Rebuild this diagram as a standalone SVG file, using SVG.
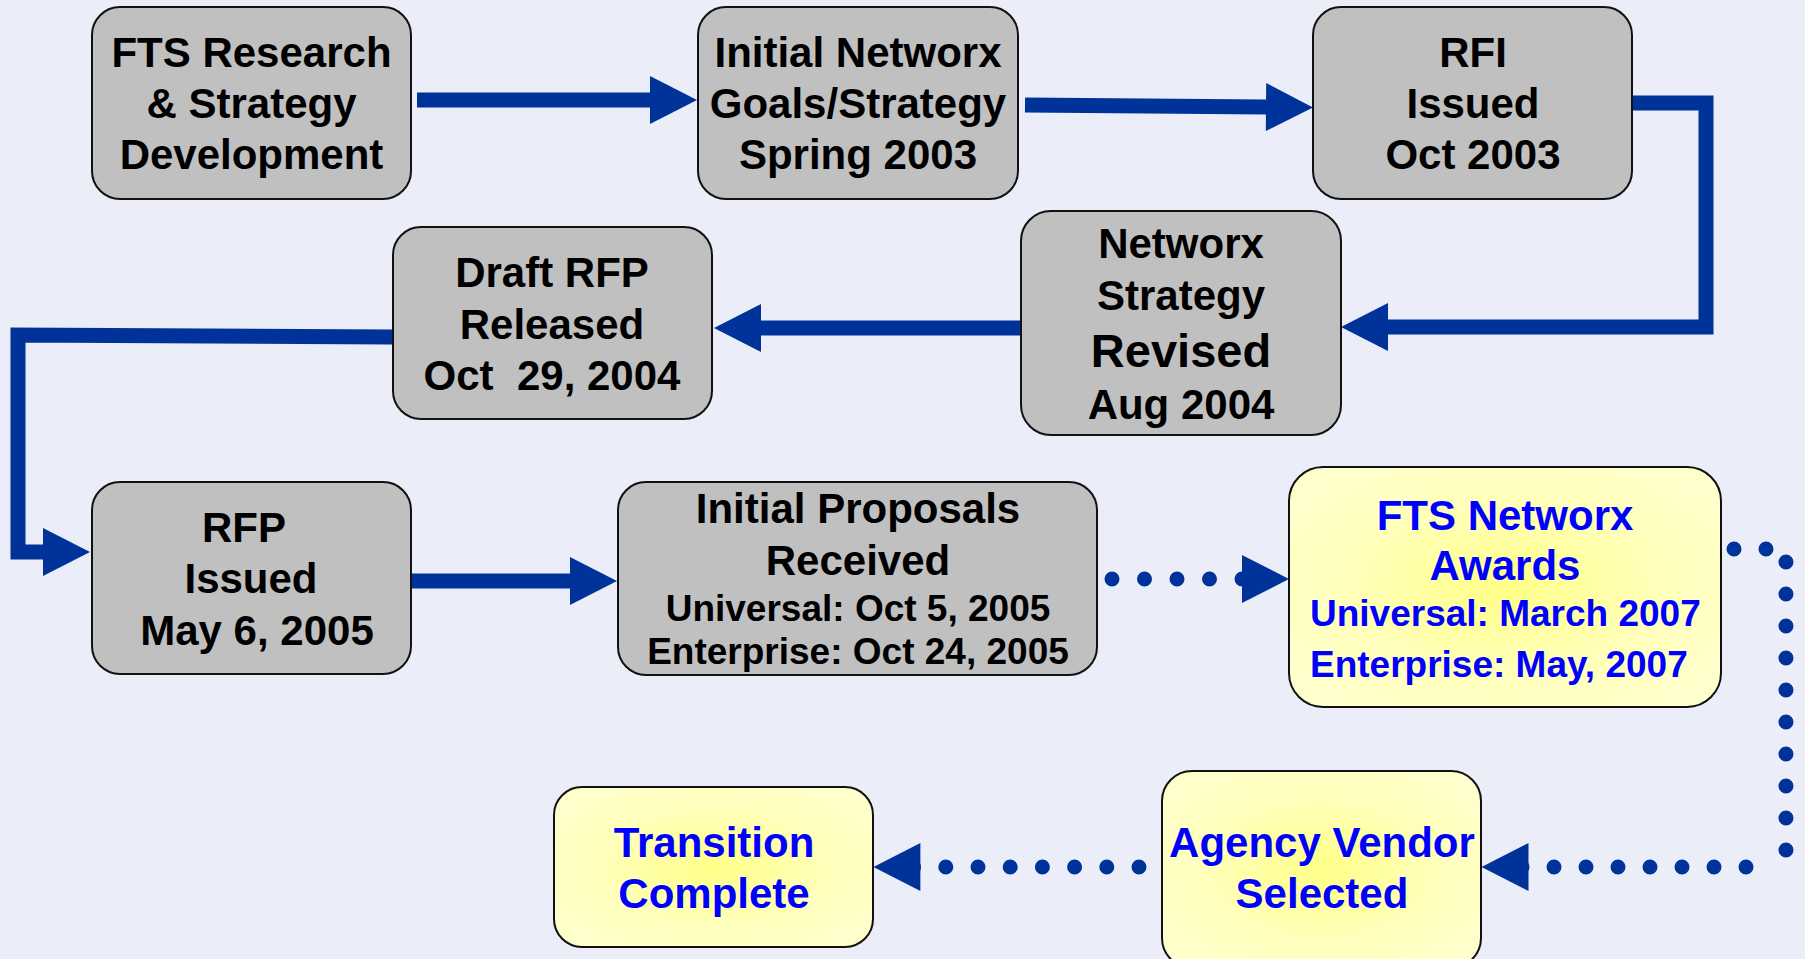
<svg xmlns="http://www.w3.org/2000/svg" width="1805" height="959" viewBox="0 0 1805 959">
<defs>
<radialGradient id="yg" cx="50%" cy="50%" r="60%">
<stop offset="0" stop-color="#FFFF88"/>
<stop offset="0.6" stop-color="#FFFFBB"/>
<stop offset="1" stop-color="#FFFFCC"/>
</radialGradient>
<marker id="head" markerUnits="userSpaceOnUse" markerWidth="48" markerHeight="48" refX="1" refY="24" orient="auto" overflow="visible">
<path d="M0,0 L47,24 L0,48 Z" fill="#003399"/>
</marker>
<marker id="headd" markerUnits="userSpaceOnUse" markerWidth="48" markerHeight="48" refX="7" refY="24" orient="auto" overflow="visible">
<path d="M0,0 L47,24 L0,48 Z" fill="#003399"/>
</marker>
<marker id="head0" markerUnits="userSpaceOnUse" markerWidth="48" markerHeight="48" refX="0.5" refY="24" orient="auto" overflow="visible">
<path d="M0,0 L47,24 L0,48 Z" fill="#003399"/>
</marker>
</defs>
<style>
.gray{fill:#C0C0C0;stroke:#111;stroke-width:2}
.yel{fill:url(#yg);stroke:#111;stroke-width:2}
text{font-family:"Liberation Sans",Arial,sans-serif;font-weight:bold;text-anchor:middle}
.k{fill:#000;font-size:42px}
.b{fill:#0000FF;font-size:42px}
.s{font-size:37px}
.solid{fill:none;stroke:#003399;stroke-width:15;stroke-linejoin:miter}
.dot{fill:none;stroke:#003399;stroke-width:15;stroke-linecap:round;stroke-dasharray:0 32}
</style>
<rect width="1805" height="959" fill="#EBEEF8"/>

<g id="connectors">
<path class="solid" d="M417,100 H651" marker-end="url(#head)"/>
<path class="solid" d="M1025,105 L1267,107" marker-end="url(#head)"/>
<path class="solid" d="M1632,103 H1706 V327 H1387" marker-end="url(#head)"/>
<path class="solid" d="M1021,328 H760" marker-end="url(#head)"/>
<path class="solid" d="M393,337 L18,335 V552 H44" marker-end="url(#head)"/>
<path class="solid" d="M411,581 H571" marker-end="url(#head)"/>
<path class="dot" style="stroke-dasharray:0 32.5" d="M1112,579 H1242.5" marker-end="url(#head0)"/>
<path class="dot" d="M1734,549 H1767"/>
<path class="dot" d="M1786,562 V851"/>
<path class="dot" d="M1746,867 H1521.5" marker-end="url(#headd)"/>
<path class="dot" style="stroke-dasharray:0 32.2" d="M1139,867 H913.4" marker-end="url(#headd)"/>
</g>

<g id="fts-research">
<rect class="gray" x="92" y="7" width="319" height="192" rx="28"/>
<text class="k" x="251.5" y="67">FTS Research</text>
<text class="k" x="251.5" y="118">&amp; Strategy</text>
<text class="k" x="251.5" y="169">Development</text>
</g>

<g id="initial-networx">
<rect class="gray" x="698" y="7" width="320" height="192" rx="28"/>
<text class="k" x="858" y="67">Initial Networx</text>
<text class="k" x="858" y="118">Goals/Strategy</text>
<text class="k" x="858" y="169">Spring 2003</text>
</g>

<g id="rfi-issued">
<rect class="gray" x="1313" y="7" width="319" height="192" rx="28"/>
<text class="k" x="1473" y="67">RFI</text>
<text class="k" x="1473" y="118">Issued</text>
<text class="k" x="1473" y="169">Oct 2003</text>
</g>

<g id="strategy-revised">
<rect class="gray" x="1021" y="211" width="320" height="224" rx="30"/>
<text class="k" x="1181" y="258">Networx</text>
<text class="k" x="1181" y="310">Strategy</text>
<text class="k" x="1181" y="367" style="font-size:47px">Revised</text>
<text class="k" x="1181" y="419">Aug 2004</text>
</g>

<g id="draft-rfp">
<rect class="gray" x="393" y="227" width="319" height="192" rx="28"/>
<text class="k" x="552" y="287">Draft RFP</text>
<text class="k" x="552" y="339">Released</text>
<text class="k" x="552" y="390" xml:space="preserve">Oct  29, 2004</text>
</g>

<g id="rfp-issued">
<rect class="gray" x="92" y="482" width="319" height="192" rx="28"/>
<text class="k" x="244" y="542">RFP</text>
<text class="k" x="251" y="593">Issued</text>
<text class="k" x="257" y="645">May 6, 2005</text>
</g>

<g id="initial-proposals">
<rect class="gray" x="618" y="482" width="479" height="193" rx="28"/>
<text class="k" x="858" y="523">Initial Proposals</text>
<text class="k" x="858" y="575">Received</text>
<text class="k s" x="858" y="621">Universal: Oct 5, 2005</text>
<text class="k s" x="858" y="664">Enterprise: Oct 24, 2005</text>
</g>

<g id="networx-awards">
<rect class="yel" x="1289" y="467" width="432" height="240" rx="34"/>
<text class="b" x="1505" y="530">FTS Networx</text>
<text class="b" x="1505" y="580">Awards</text>
<text class="b s" x="1310" y="626" style="text-anchor:start">Universal: March 2007</text>
<text class="b s" x="1310" y="677" style="text-anchor:start">Enterprise: May, 2007</text>
</g>

<g id="agency-vendor">
<rect class="yel" x="1162" y="771" width="319" height="197" rx="30"/>
<text class="b" x="1322" y="857">Agency Vendor</text>
<text class="b" x="1322" y="908">Selected</text>
</g>

<g id="transition-complete">
<rect class="yel" x="554" y="787" width="319" height="160" rx="28"/>
<text class="b" x="714" y="857">Transition</text>
<text class="b" x="714" y="908">Complete</text>
</g>
</svg>
